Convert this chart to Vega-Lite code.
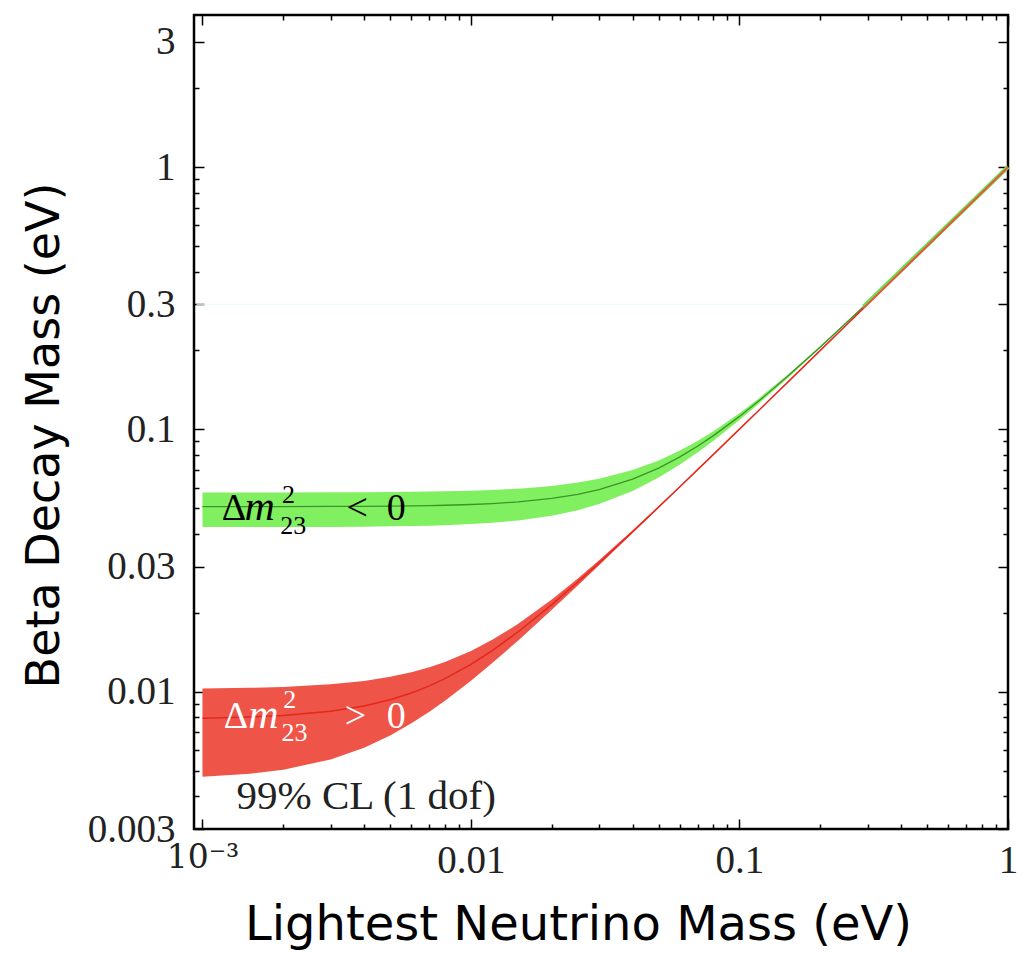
{
  "$schema": "https://vega.github.io/schema/vega-lite/v6.json",
  "width": 814,
  "height": 814,
  "autosize": {"type": "none"},
  "padding": {"left": 194, "top": 15, "right": 9, "bottom": 129},
  "background": "white",
  "config": {
    "view": {"stroke": "black", "strokeWidth": 2.5},
    "axis": {"domain": false, "grid": false}
  },
  "datasets": {
    "band": [
      {"x": 0.001, "glo": 0.04244, "ghi": 0.05754, "gc": 0.05080, "rlo": 0.004743, "rhi": 0.010296, "rc": 0.007937},
      {"x": 0.0015, "glo": 0.04245, "ghi": 0.05755, "gc": 0.05082, "rlo": 0.004873, "rhi": 0.010356, "rc": 0.008016},
      {"x": 0.002, "glo": 0.04247, "ghi": 0.05757, "gc": 0.05083, "rlo": 0.005050, "rhi": 0.010440, "rc": 0.008124},
      {"x": 0.003, "glo": 0.04253, "ghi": 0.05761, "gc": 0.05088, "rlo": 0.005523, "rhi": 0.010677, "rc": 0.008426},
      {"x": 0.004, "glo": 0.04262, "ghi": 0.05767, "gc": 0.05095, "rlo": 0.006124, "rhi": 0.011000, "rc": 0.008832},
      {"x": 0.005, "glo": 0.04272, "ghi": 0.05775, "gc": 0.05104, "rlo": 0.006819, "rhi": 0.011402, "rc": 0.009327},
      {"x": 0.006, "glo": 0.04285, "ghi": 0.05785, "gc": 0.05115, "rlo": 0.007583, "rhi": 0.011874, "rc": 0.009899},
      {"x": 0.007, "glo": 0.04300, "ghi": 0.05796, "gc": 0.05127, "rlo": 0.008396, "rhi": 0.012410, "rc": 0.010536},
      {"x": 0.008, "glo": 0.04317, "ghi": 0.05809, "gc": 0.05142, "rlo": 0.009247, "rhi": 0.013000, "rc": 0.011225},
      {"x": 0.01, "glo": 0.04359, "ghi": 0.05840, "gc": 0.05177, "rlo": 0.011023, "rhi": 0.014318, "rc": 0.012728},
      {"x": 0.012, "glo": 0.04409, "ghi": 0.05877, "gc": 0.05219, "rlo": 0.012865, "rhi": 0.015780, "rc": 0.014353},
      {"x": 0.015, "glo": 0.04500, "ghi": 0.05946, "gc": 0.05296, "rlo": 0.015700, "rhi": 0.018166, "rc": 0.016941},
      {"x": 0.02, "glo": 0.04690, "ghi": 0.06091, "gc": 0.05459, "rlo": 0.020531, "rhi": 0.022472, "rc": 0.021494},
      {"x": 0.025, "glo": 0.04924, "ghi": 0.06273, "gc": 0.05661, "rlo": 0.025426, "rhi": 0.027019, "rc": 0.026211},
      {"x": 0.03, "glo": 0.05196, "ghi": 0.06489, "gc": 0.05899, "rlo": 0.030356, "rhi": 0.031702, "rc": 0.031016},
      {"x": 0.04, "glo": 0.05831, "ghi": 0.07007, "gc": 0.06465, "rlo": 0.040268, "rhi": 0.041292, "rc": 0.040768},
      {"x": 0.05, "glo": 0.06557, "ghi": 0.07622, "gc": 0.07127, "rlo": 0.050214, "rhi": 0.051039, "rc": 0.050616},
      {"x": 0.06, "glo": 0.07349, "ghi": 0.08313, "gc": 0.07861, "rlo": 0.060179, "rhi": 0.060869, "rc": 0.060514},
      {"x": 0.07, "glo": 0.08185, "ghi": 0.09061, "gc": 0.08649, "rlo": 0.070154, "rhi": 0.070746, "rc": 0.070442},
      {"x": 0.08, "glo": 0.09055, "ghi": 0.09854, "gc": 0.09476, "rlo": 0.080134, "rhi": 0.080654, "rc": 0.080387},
      {"x": 0.1, "glo": 0.10863, "ghi": 0.11537, "gc": 0.11216, "rlo": 0.100107, "rhi": 0.100524, "rc": 0.100310},
      {"x": 0.12, "glo": 0.12728, "ghi": 0.13308, "gc": 0.13031, "rlo": 0.120090, "rhi": 0.120437, "rc": 0.120258},
      {"x": 0.15, "glo": 0.15589, "ghi": 0.16066, "gc": 0.15837, "rlo": 0.150072, "rhi": 0.150350, "rc": 0.150206},
      {"x": 0.2, "glo": 0.20445, "ghi": 0.20811, "gc": 0.20635, "rlo": 0.200054, "rhi": 0.200262, "rc": 0.200155},
      {"x": 0.25, "glo": 0.25357, "ghi": 0.25654, "gc": 0.25511, "rlo": 0.250043, "rhi": 0.250210, "rc": 0.250124},
      {"x": 0.29, "glo": 0.29309, "ghi": 0.29565, "gc": 0.29442, "rlo": 0.290037, "rhi": 0.290181, "rc": 0.290107}
    ],
    "tail": [
      {"x": 0.29, "g": 0.29442, "r": 0.290107},
      {"x": 1.0, "g": 1.0013, "r": 1.00003}
    ],
    "faint": [{"x": 0.00095, "x2": 0.29, "y": 0.3}],
    "upright_black": [
      {"x": 0.00118, "y": 0.045, "t": "Δ"},
      {"x": 0.00344, "y": 0.045, "t": "<"},
      {"x": 0.00486, "y": 0.045, "t": "0"}
    ],
    "italic_black": [{"x": 0.001435, "y": 0.045, "t": "m"}],
    "small_black": [
      {"x": 0.00198, "y": 0.0526, "t": "2"},
      {"x": 0.00195, "y": 0.0401, "t": "23"}
    ],
    "upright_white": [
      {"x": 0.00120, "y": 0.00729, "t": "Δ"},
      {"x": 0.00339, "y": 0.00729, "t": ">"},
      {"x": 0.00486, "y": 0.00729, "t": "0"}
    ],
    "italic_white": [{"x": 0.00148, "y": 0.00729, "t": "m"}],
    "small_white": [
      {"x": 0.00200, "y": 0.00869, "t": "2"},
      {"x": 0.00197, "y": 0.0065, "t": "23"}
    ],
    "note": [{"x": 0.00134, "y": 0.00357, "t": "99% CL (1 dof)"}]
  },
  "layer": [
    {
      "data": {"name": "faint"},
      "mark": {"type": "rule", "color": "#e6fbfb", "strokeWidth": 1},
      "encoding": {
        "x": {"field": "x", "type": "quantitative", "scale": {"type": "log", "domain": [0.00093, 1], "nice": false},
          "axis": {
            "orient": "bottom",
            "values": [0.001,0.002,0.003,0.004,0.005,0.006,0.007,0.008,0.009,0.01,0.02,0.03,0.04,0.05,0.06,0.07,0.08,0.09,0.1,0.2,0.3,0.4,0.5,0.6,0.7,0.8,0.9,1],
            "labelExpr": "datum.value == 0.001 ? '10⁻³' : (indexof([0.01,0.1,1], datum.value) >= 0 ? format(datum.value, '~g') : '')",
            "tickSize": {"condition": {"test": "indexof([0.001,0.01,0.1,1], datum.value) >= 0", "value": -10}, "value": -5},
            "tickColor": "black", "tickWidth": 1.5,
            "labelFont": {"condition": {"test": "datum.value == 0.001", "value": "DejaVu Serif"}, "value": "Liberation Serif"},
            "labelFontSize": {"condition": {"test": "datum.value == 0.001", "value": 33}, "value": 39},
            "labelColor": "#222",
            "labelPadding": 22, "labelOverlap": false, "labelFlush": false, "labelBound": false,
            "title": "Lightest Neutrino Mass (eV)",
            "titleFont": "DejaVu Sans", "titleFontSize": 48, "titleFontWeight": "normal", "titleColor": "black",
            "titlePadding": 16, "titleX": 384
          }},
        "x2": {"field": "x2"},
        "y": {"field": "y", "type": "quantitative", "scale": {"type": "log", "domain": [0.003, 3.8], "nice": false},
          "axis": {
            "orient": "left",
            "values": [0.003,0.004,0.005,0.006,0.007,0.008,0.009,0.01,0.02,0.03,0.04,0.05,0.06,0.07,0.08,0.09,0.1,0.2,0.3,0.4,0.5,0.6,0.7,0.8,0.9,1,2,3],
            "labelExpr": "indexof([0.003,0.01,0.03,0.1,0.3,1,3], datum.value) >= 0 ? format(datum.value, '~g') : ''",
            "tickSize": {"condition": {"test": "indexof([0.003,0.01,0.03,0.1,0.3,1,3], datum.value) >= 0", "value": -10}, "value": -5},
            "tickColor": "black", "tickWidth": 1.5,
            "labelFont": "Liberation Serif", "labelFontSize": 39, "labelColor": "#222",
            "labelPadding": 29, "labelOverlap": false, "labelFlush": false, "labelBound": false,
            "title": "Beta Decay Mass (eV)",
            "titleFont": "DejaVu Sans", "titleFontSize": 46, "titleFontWeight": "normal", "titleColor": "black",
            "titlePadding": 19, "titleY": 420
          }}
      }
    },
    {
      "data": {"name": "band"},
      "mark": {"type": "rule", "opacity": 0},
      "encoding": {
        "x": {"field": "x", "type": "quantitative", "scale": {"type": "log", "domain": [0.00093, 1], "nice": false},
          "axis": {
            "orient": "top",
            "values": [0.001,0.002,0.003,0.004,0.005,0.006,0.007,0.008,0.009,0.01,0.02,0.03,0.04,0.05,0.06,0.07,0.08,0.09,0.1,0.2,0.3,0.4,0.5,0.6,0.7,0.8,0.9,1],
            "labels": false, "title": null,
            "tickSize": {"condition": {"test": "indexof([0.001,0.01,0.1,1], datum.value) >= 0", "value": -10}, "value": -5},
            "tickColor": "black", "tickWidth": 1.5
          }},
        "y": {"field": "gc", "type": "quantitative", "scale": {"type": "log", "domain": [0.003, 3.8], "nice": false},
          "axis": {
            "orient": "right",
            "values": [0.003,0.004,0.005,0.006,0.007,0.008,0.009,0.01,0.02,0.03,0.04,0.05,0.06,0.07,0.08,0.09,0.1,0.2,0.3,0.4,0.5,0.6,0.7,0.8,0.9,1,2,3],
            "labels": false, "title": null,
            "tickSize": {"condition": {"test": "indexof([0.003,0.01,0.03,0.1,0.3,1,3], datum.value) >= 0", "value": -10}, "value": -5},
            "tickColor": "black", "tickWidth": 1.5
          }}
      }
    },
    {
      "data": {"name": "band"},
      "mark": {"type": "area", "color": "#80f060", "opacity": 1},
      "encoding": {
        "x": {"field": "x", "type": "quantitative", "axis": null},
        "y": {"field": "glo", "type": "quantitative", "axis": null},
        "y2": {"field": "ghi"}
      }
    },
    {
      "data": {"name": "band"},
      "mark": {"type": "line", "color": "#3c9428", "strokeWidth": 1.3},
      "encoding": {
        "x": {"field": "x", "type": "quantitative", "axis": null},
        "y": {"field": "gc", "type": "quantitative", "axis": null}
      }
    },
    {
      "data": {"name": "band"},
      "mark": {"type": "area", "color": "#ee5448", "opacity": 1},
      "encoding": {
        "x": {"field": "x", "type": "quantitative", "axis": null},
        "y": {"field": "rlo", "type": "quantitative", "axis": null},
        "y2": {"field": "rhi"}
      }
    },
    {
      "data": {"name": "band"},
      "mark": {"type": "line", "color": "#e4281c", "strokeWidth": 1.5},
      "encoding": {
        "x": {"field": "x", "type": "quantitative", "axis": null},
        "y": {"field": "rc", "type": "quantitative", "axis": null}
      }
    },
    {
      "data": {"name": "tail"},
      "mark": {"type": "line", "color": "#66e04a", "strokeWidth": 4},
      "encoding": {
        "x": {"field": "x", "type": "quantitative", "axis": null},
        "y": {"field": "g", "type": "quantitative", "axis": null}
      }
    },
    {
      "data": {"name": "tail"},
      "mark": {"type": "line", "color": "#f0503f", "strokeWidth": 2},
      "encoding": {
        "x": {"field": "x", "type": "quantitative", "axis": null},
        "y": {"field": "r", "type": "quantitative", "axis": null}
      }
    },
    {
      "data": {"name": "upright_black"},
      "mark": {"type": "text", "font": "Liberation Serif", "fontSize": 38, "color": "black", "align": "left", "baseline": "alphabetic"},
      "encoding": {"x": {"field": "x", "type": "quantitative", "axis": null}, "y": {"field": "y", "type": "quantitative", "axis": null}, "text": {"field": "t"}}
    },
    {
      "data": {"name": "italic_black"},
      "mark": {"type": "text", "font": "Liberation Serif", "fontStyle": "italic", "fontSize": 42, "color": "black", "align": "left", "baseline": "alphabetic"},
      "encoding": {"x": {"field": "x", "type": "quantitative", "axis": null}, "y": {"field": "y", "type": "quantitative", "axis": null}, "text": {"field": "t"}}
    },
    {
      "data": {"name": "small_black"},
      "mark": {"type": "text", "font": "Liberation Serif", "fontSize": 26, "color": "black", "align": "left", "baseline": "alphabetic"},
      "encoding": {"x": {"field": "x", "type": "quantitative", "axis": null}, "y": {"field": "y", "type": "quantitative", "axis": null}, "text": {"field": "t"}}
    },
    {
      "data": {"name": "upright_white"},
      "mark": {"type": "text", "font": "Liberation Serif", "fontSize": 38, "color": "white", "align": "left", "baseline": "alphabetic"},
      "encoding": {"x": {"field": "x", "type": "quantitative", "axis": null}, "y": {"field": "y", "type": "quantitative", "axis": null}, "text": {"field": "t"}}
    },
    {
      "data": {"name": "italic_white"},
      "mark": {"type": "text", "font": "Liberation Serif", "fontStyle": "italic", "fontSize": 42, "color": "white", "align": "left", "baseline": "alphabetic"},
      "encoding": {"x": {"field": "x", "type": "quantitative", "axis": null}, "y": {"field": "y", "type": "quantitative", "axis": null}, "text": {"field": "t"}}
    },
    {
      "data": {"name": "small_white"},
      "mark": {"type": "text", "font": "Liberation Serif", "fontSize": 26, "color": "white", "align": "left", "baseline": "alphabetic"},
      "encoding": {"x": {"field": "x", "type": "quantitative", "axis": null}, "y": {"field": "y", "type": "quantitative", "axis": null}, "text": {"field": "t"}}
    },
    {
      "data": {"name": "note"},
      "mark": {"type": "text", "font": "Liberation Serif", "fontSize": 41, "color": "#222", "align": "left", "baseline": "alphabetic"},
      "encoding": {"x": {"field": "x", "type": "quantitative", "axis": null}, "y": {"field": "y", "type": "quantitative", "axis": null}, "text": {"field": "t"}}
    }
  ],
  "resolve": {"axis": {"x": "independent", "y": "independent"}}
}
